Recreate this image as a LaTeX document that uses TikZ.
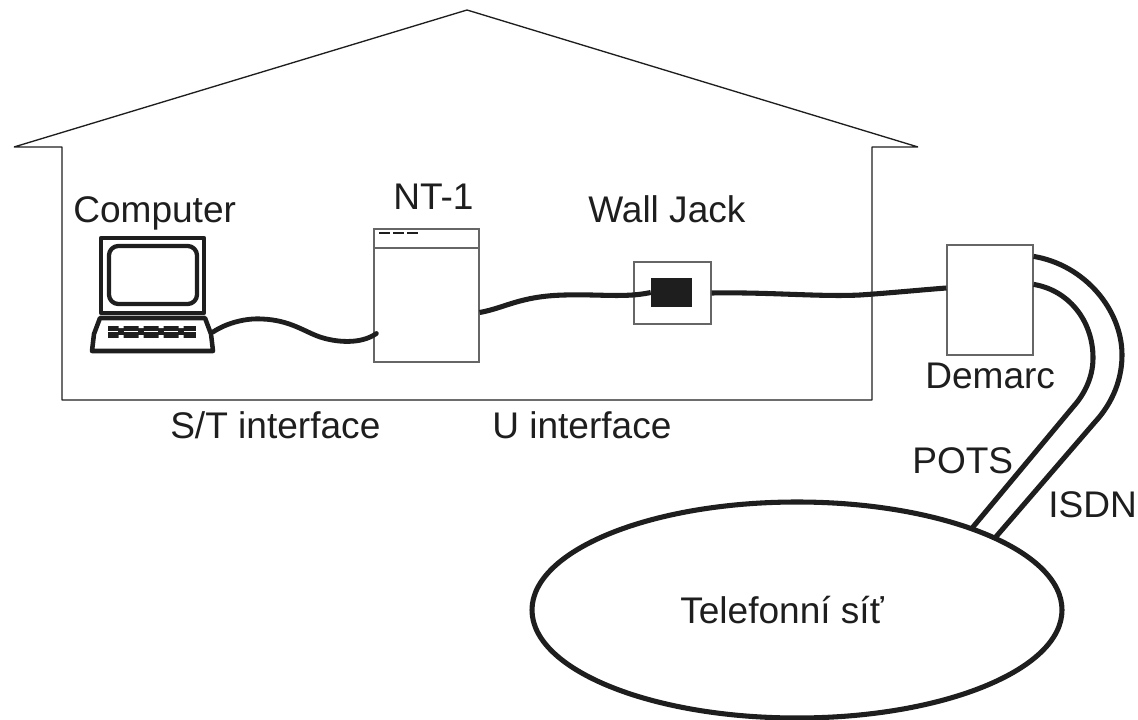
\documentclass[tikz,border=0pt]{standalone}
\usepackage{fontspec}
\usetikzlibrary{shapes.geometric,calc}
\setmainfont{Liberation Sans}
\definecolor{ink}{HTML}{1E1E1E}
\definecolor{thin}{HTML}{666666}
\tikzset{
 x=0.75pt,y=-0.75pt,
 wire/.style={draw=ink,line width=3.6pt,line cap=round},
 cable/.style={draw=ink,line width=3.8pt},
 boxline/.style={draw=thin,line width=0.9pt},
 lab/.style={inner sep=0pt,anchor=base west,text=ink,font=\fontsize{27.8}{32}\selectfont},
 comp/.style={draw=ink,line width=3.2pt,line join=round},
}
\begin{document}
\begin{tikzpicture}
\useasboundingbox (0,0) rectangle (1138,720);
\draw[draw=ink,line width=1pt,line join=bevel] (14,147) -- (467,10) -- (918,147) -- (872,147) -- (872,400) -- (62,400) -- (62,147) -- cycle;
% computer
\draw[comp] (101,238) rectangle (204,313);
\draw[comp,rounded corners=7pt] (109,246) rectangle (197,304);
\draw[comp,line width=3.4pt] (100,318) -- (205,318) -- (211,334) -- (213,351) -- (92,351) -- (94,334) -- cycle;
\coordinate (pc) at (213,332);
\fill[ink] (108,325.5) rectangle (196,337.5);
\draw[white,line width=1.3pt] (108,331.5) -- (118,331.5) (124,331.5) -- (138,331.5) (144,331.5) -- (158,331.5) (164,331.5) -- (178,331.5) (184,331.5) -- (196,331.5);
\foreach \x in {121,141,161,181}{\fill[white] (\x-2.5,325) rectangle (\x+2.5,328) (\x-2.5,335) rectangle (\x+2.5,338);}
\node[lab] at (73,223) {Computer};
% NT-1
\node[boxline,minimum width=78.75pt,minimum height=99.75pt,inner sep=0pt] (nt) at (426.5,295.5) {};
\coordinate (ntdivL) at (374,248);\coordinate (ntdivR) at (479,248);
\draw[boxline] (ntdivL) -- (ntdivR);
\draw[draw=ink,line width=1.6pt] (379,233) -- (390,233) (393,233) -- (404,233) (407,233) -- (418,233);
\node[lab] at (393,210) {NT-1};
% jack
\node[boxline,minimum width=57.75pt,minimum height=46.5pt,inner sep=0pt] (jack) at (672.5,293) {};
\node[fill=ink,minimum width=30.75pt,minimum height=21.75pt,inner sep=0pt] (plug) at (671.5,292.5) {};
\node[lab] at (588,223) {Wall Jack};
% demarc
\node[boxline,minimum width=64.5pt,minimum height=82.5pt,inner sep=0pt] (dem) at (990,300) {};
\node[lab] at (925,388) {Demarc};
% network
\node[draw=none,ellipse,minimum width=397.5pt,minimum height=162pt,inner sep=0pt] (net) at (797,610) {};
% cables
\draw[wire] (pc) .. controls (228,322) and (248,318) .. (262,319) .. controls (290,320) and (305,332) .. (320,337) .. controls (335,342) and (360,345) .. ($(nt.west)+(3,38)$);
\draw[cable] ($(nt.east)+(0,17)$) .. controls (505,308) and (520,296) .. (565,295) .. controls (600,294) and (625,298) .. (plug.west);
\draw[cable] (jack.east) .. controls (770,292) and (820,297) .. (860,295) .. controls (890,293) and (920,290) .. (dem.west |- 0,288);
\draw[cable] ($(dem.north east)+(0,12)$) .. controls (1085,265) and (1122,310) .. (1122,355) .. controls (1122,385) and (1108,408) .. (1095,422) -- (net.20);
\draw[cable] ($(dem.north east)+(0,40)$) .. controls (1068,290) and (1093,320) .. (1093,358) .. controls (1093,380) and (1082,397) .. (1073,407) -- (net.25);
\node[draw=ink,line width=3.8pt,fill=white,ellipse,minimum width=397.5pt,minimum height=162pt,inner sep=0pt] at (net.center) {};
\node[lab] at (680,623) {Telefonní síť};
\node[lab] at (912,473) {POTS};
\node[lab] at (1048,517) {ISDN};
\node[lab] at (170,438) {S/T interface};
\node[lab] at (492,438) {U interface};
\end{tikzpicture}
\end{document}
